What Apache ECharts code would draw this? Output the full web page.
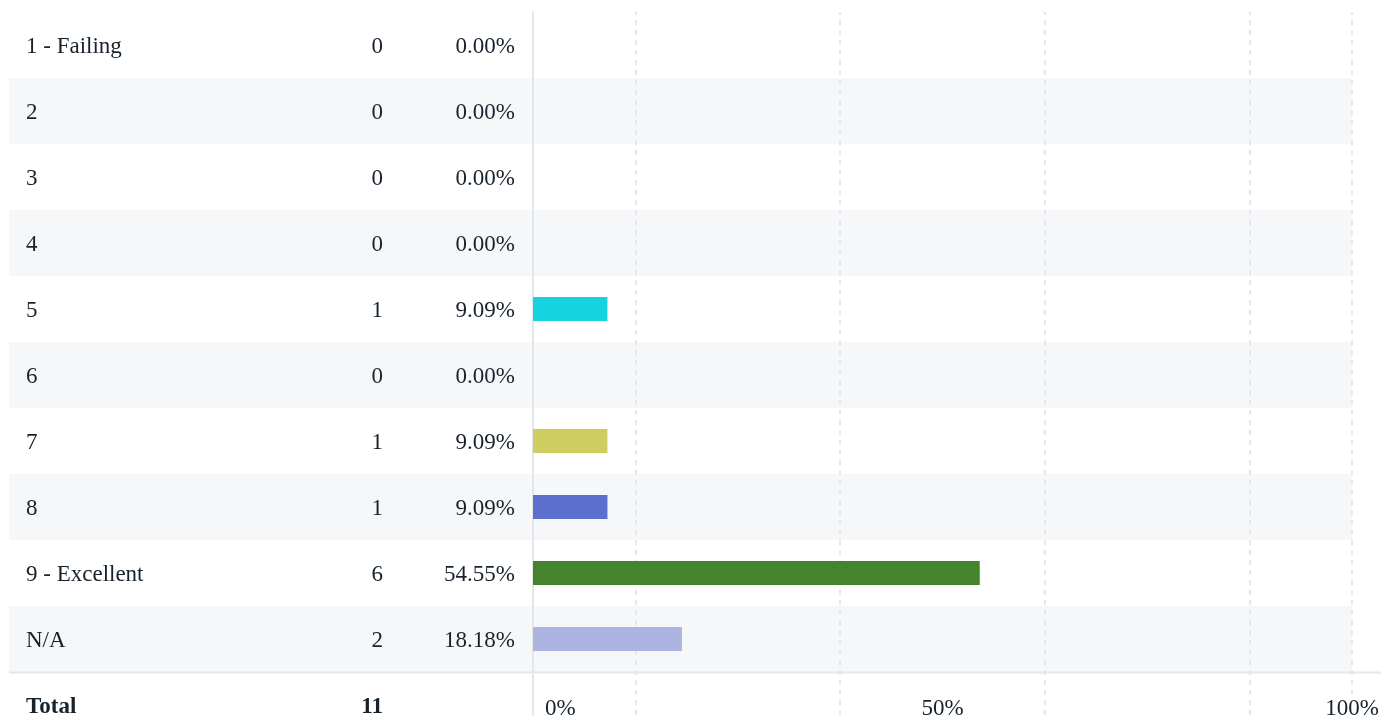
<!DOCTYPE html>
<html><head><meta charset="utf-8">
<script src="https://cdn.jsdelivr.net/npm/echarts@6/dist/echarts.min.js"></script>
<style>html,body{margin:0;padding:0;background:#fff}#c{width:1397px;height:723px}</style>
</head><body><div id="c"></div>
<script>
const categories = ['1 - Failing','2','3','4','5','6','7','8','9 - Excellent','N/A'];
const counts = [0,0,0,0,1,0,1,1,6,2];
const percents = [0,0,0,0,9.09,0,9.09,9.09,54.55,18.18];
const totalLabel = 'Total';
const totalCount = 11;
const barColors = ['#7cb5ec','#f7a35c','#90ed7d','#e4d354','#16D3DF','#f15c80','#CFCC60','#5C6FCC','#44842D','#ADB4E2'];
const xTickLabels = ['0%','50%','100%'];
const gridTicks = [12.5,37.5,62.5,87.5,100];

const rows = categories.concat([totalLabel]);
const FONT = 'Liberation Serif';
const TXT = '#17222D';
const bands = ['#FFFFFF','#F6F7F9'];

const chart = echarts.init(document.getElementById('c'));
chart.setOption({
  animation: false,
  backgroundColor: '#fff',
  grid: [
    {left: 9, top: 12, width: 524, height: 726, outerBoundsMode: 'none', containLabel: false},
    {left: 533, top: 12, width: 819, height: 726, outerBoundsMode: 'none', containLabel: false},
    {left: 533, top: 12, width: 819, height: 703, outerBoundsMode: 'none', containLabel: false}
  ],
  xAxis: [
    {gridIndex: 0, type: 'value', min: 0, max: 1, show: false},
    {gridIndex: 1, type: 'value', min: 0, max: 100, interval: 50, z: 6,
     axisLine: {show: false}, axisTick: {show: false}, splitLine: {show: false},
     axisLabel: {
       inside: true, margin: 18, fontSize: 23, fontFamily: FONT, color: TXT,
       alignMinLabel: 'left', alignMaxLabel: 'center',
       formatter: function (v) {
         const i = [0,50,100].indexOf(v);
         const t = i >= 0 ? xTickLabels[i] : '';
         if (v === 0) return '{f|' + t + '}';
         if (v === 100) return '{m|' + t + '}';
         return t;
       },
       rich: {
         f: {fontSize: 23, fontFamily: FONT, color: TXT, padding: [0,0,0,12]},
         m: {fontSize: 23, fontFamily: FONT, color: TXT, backgroundColor: '#fff'}
       }
     }},
    {gridIndex: 2, type: 'value', min: 0, max: 100, show: false}
  ],
  yAxis: [
    {gridIndex: 0, type: 'category', data: rows, inverse: true,
     axisLine: {show: false}, axisTick: {show: false}, axisLabel: {show: false},
     splitLine: {show: false},
     splitArea: {show: true, areaStyle: {color: bands}}},
    {gridIndex: 1, type: 'category', data: rows, inverse: true,
     axisLine: {show: false},
     axisTick: {show: false}, splitLine: {show: false},
     splitArea: {show: true, areaStyle: {color: bands}},
     axisLabel: {
       show: true, interval: 0, align: 'left', margin: 507,
       fontSize: 23, fontFamily: FONT, color: TXT, padding: [4,0,0,0],
       formatter: function (value, index) {
         if (index < categories.length) {
           return '{a|' + value + '}{b|' + counts[index] + '}{c|' + percents[index].toFixed(2) + '%}';
         }
         return '{ta|' + value + '}{tb|' + totalCount + '}{c|}';
       },
       rich: {
         a: {width: 300, align: 'left', fontSize: 23, fontFamily: FONT, color: TXT},
         b: {width: 57, align: 'right', fontSize: 23, fontFamily: FONT, color: TXT},
         c: {width: 132, align: 'right', fontSize: 23, fontFamily: FONT, color: TXT},
         ta: {width: 300, align: 'left', fontSize: 23, fontFamily: FONT, color: TXT, fontWeight: 'bold'},
         tb: {width: 57, align: 'right', fontSize: 23, fontFamily: FONT, color: TXT, fontWeight: 'bold'}
       }
     }},
    {gridIndex: 2, type: 'value', min: 0, max: 1,
     axisLine: {show: true, lineStyle: {color: '#E3E6EA', width: 2}},
     axisTick: {show: false}, axisLabel: {show: false}, splitLine: {show: false}}
  ],
  series: [
    {
      type: 'line', xAxisIndex: 2, yAxisIndex: 2, z: 1, silent: true, symbol: 'none',
      data: [],
      markLine: {
        silent: true, z: 1, symbol: 'none', label: {show: false},
        lineStyle: {type: [5, 5], color: '#E6E7EA', width: 2},
        data: gridTicks.map(v => ({xAxis: v}))
      }
    },
    {
      type: 'bar', xAxisIndex: 1, yAxisIndex: 1, z: 3, barWidth: 24, silent: true,
      data: percents.map((v, i) => ({value: v, itemStyle: {color: barColors[i]}}))
    }
  ],
  graphic: [
    {type: 'line', z: 10, shape: {x1: 9, y1: 672.5, x2: 1381, y2: 672.5},
     style: {stroke: '#E4E7EB', lineWidth: 2}}
  ]
});
</script>
</body></html>
